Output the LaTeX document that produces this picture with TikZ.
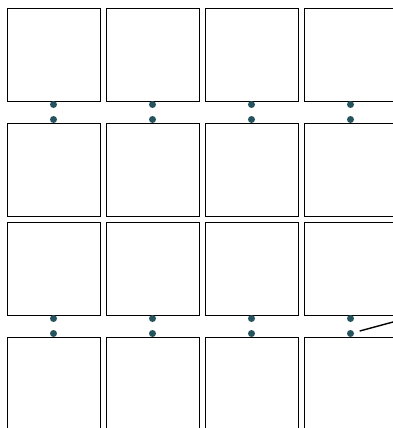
\documentclass[tikz,border=0pt]{standalone}
\usetikzlibrary{positioning}
\definecolor{portcol}{RGB}{38,84,94}

\begin{document}
\begin{tikzpicture}[x=1pt,y=-1pt,node distance=6pt,
cell/.style={draw,line width=0.8pt,minimum size=93pt,inner sep=0pt,outer sep=0pt},
port/.style={circle,fill=portcol,minimum size=7pt,inner sep=0pt,outer sep=0pt}]
\useasboundingbox (0,0) rectangle (393,428);
\node[cell] at (53.5,54.5) (a1) {};
\node[cell,right=of a1] (a2) {};
\node[cell,right=of a2] (a3) {};
\node[cell,right=of a3] (a4) {};
\node[cell,below=22pt of a1] (b1) {};
\node[cell,right=of b1] (b2) {};
\node[cell,right=of b2] (b3) {};
\node[cell,right=of b3] (b4) {};
\node[cell,below=of b1] (c1) {};
\node[cell,right=of c1] (c2) {};
\node[cell,right=of c2] (c3) {};
\node[cell,right=of c3] (c4) {};
\node[cell,below=22pt of c1] (d1) {};
\node[cell,right=of d1] (d2) {};
\node[cell,right=of d2] (d3) {};
\node[cell,right=of d3] (d4) {};
\node[port,below=0pt of a1] (p1) {};\node[port,below=0pt of a2] (p2) {};
\node[port,below=0pt of a3] (p3) {};\node[port,below=0pt of a4] (p4) {};
\node[port,above=0pt of b1] (q1) {};\node[port,above=0pt of b2] (q2) {};
\node[port,above=0pt of b3] (q3) {};\node[port,above=0pt of b4] (q4) {};
\node[port,below=0pt of c1] (s1) {};\node[port,below=0pt of c2] (s2) {};
\node[port,below=0pt of c3] (s3) {};\node[port,below=0pt of c4] (s4) {};
\node[port,above=0pt of d1] (t1) {};\node[port,above=0pt of d2] (t2) {};
\node[port,above=0pt of d3] (t3) {};\node[port,above=0pt of d4] (t4) {};
\coordinate (off) at (430,312);
\draw[line width=1.4pt,shorten <=6pt] (t4)--(off);
\end{tikzpicture}
\end{document}
